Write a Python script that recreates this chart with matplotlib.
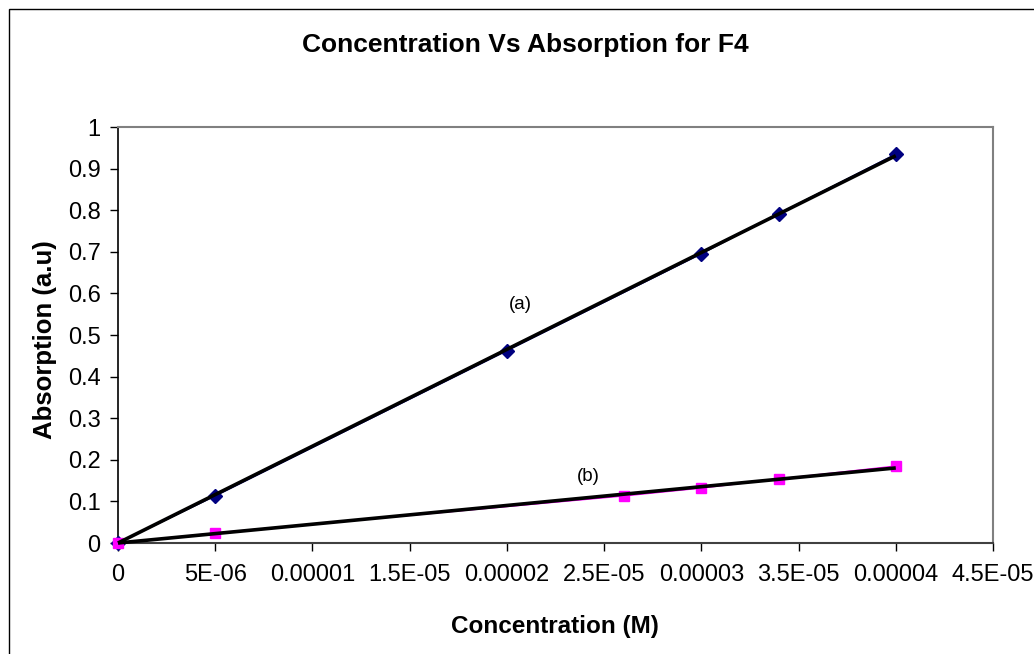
import numpy as np
import matplotlib
matplotlib.use("Agg")
import matplotlib.pyplot as plt
from matplotlib.patches import Rectangle

# Concentration (M) and absorption (a.u.) for the two F4 series
conc_a = [0.0, 5e-6, 2e-5, 3e-5, 3.4e-5, 4e-5]
abs_a = [0.0, 0.113, 0.462, 0.695, 0.792, 0.935]
conc_b = [0.0, 5e-6, 2.6e-5, 3e-5, 3.4e-5, 4e-5]
abs_b = [0.0, 0.024, 0.113, 0.132, 0.154, 0.185]

x_ticks = [0, 5e-6, 1e-5, 1.5e-5, 2e-5, 2.5e-5, 3e-5, 3.5e-5, 4e-5, 4.5e-5]
x_tick_labels = ["0", "5E-06", "0.00001", "1.5E-05", "0.00002", "2.5E-05",
                 "0.00003", "3.5E-05", "0.00004", "4.5E-05"]
y_ticks = [0, 0.1, 0.2, 0.3, 0.4, 0.5, 0.6, 0.7, 0.8, 0.9, 1.0]
y_tick_labels = ["0", "0.1", "0.2", "0.3", "0.4", "0.5", "0.6", "0.7", "0.8", "0.9", "1"]

plt.rcParams["font.family"] = ["Liberation Sans", "DejaVu Sans"]

W, H = 1034, 654
fig = plt.figure(figsize=(W / 100, H / 100), dpi=100)
fig.patch.set_facecolor("white")

# chart-area border
fig.patches.append(Rectangle((8.5 / W, -0.1), 1.2, 1.1 - 9.5 / H,
                             transform=fig.transFigure, fill=False,
                             edgecolor="black", linewidth=1.0))

ax = fig.add_axes([118 / W, 1 - 543 / H, (993 - 118) / W, (543 - 127) / H])


def fit_through_origin(x, y):
    x = np.asarray(x)
    y = np.asarray(y)
    return np.sum(x * y) / np.sum(x * x)


# data series
ax.plot(conc_a, abs_a, color="#000080", lw=1.0, marker="D", markersize=7,
        markerfacecolor="#000080", markeredgecolor="#000080", zorder=3, clip_on=False)
ax.plot(conc_b, abs_b, color="#FF00FF", lw=1.0, marker="s", markersize=7.5,
        markerfacecolor="#FF00FF", markeredgecolor="#FF00FF", zorder=3, clip_on=False)

# linear trendlines through the origin
for xs, ys in ((conc_a, abs_a), (conc_b, abs_b)):
    k = fit_through_origin(xs, ys)
    xe = np.array([0.0, max(xs)])
    ax.plot(xe, k * xe, color="black", lw=2.6, zorder=4, solid_capstyle="butt",
            clip_on=False)

ax.text(2.07e-5, 0.573, "(a)", fontsize=13.5, ha="center", va="center")
ax.text(2.42e-5, 0.159, "(b)", fontsize=13.5, ha="center", va="center")

ax.set_xlim(0, 4.5e-5)
ax.set_ylim(0, 1.0)
ax.set_xticks(x_ticks)
ax.set_xticklabels(x_tick_labels)
ax.set_yticks(y_ticks)
ax.set_yticklabels(y_tick_labels)
ax.tick_params(axis="both", direction="out", length=6, width=1, labelsize=17,
               colors="black")
ax.tick_params(axis="x", pad=9)
ax.tick_params(axis="y", pad=6.5)

ax.spines["top"].set_color("#808080")
ax.spines["right"].set_color("#808080")
ax.spines["top"].set_linewidth(1.5)
ax.spines["right"].set_linewidth(1.5)
ax.spines["left"].set_color("black")
ax.spines["bottom"].set_color("#404040")
ax.spines["left"].set_linewidth(1.2)
ax.spines["bottom"].set_linewidth(1.5)

fig.text(525 / W, 1 - 52 / H, "Concentration Vs Absorption for F4",
         fontsize=19, fontweight="bold", ha="center", va="baseline")
fig.text(555 / W, 1 - 633 / H, "Concentration (M)",
         fontsize=17.5, fontweight="bold", ha="center", va="baseline")
fig.text(45 / W, 1 - 340 / H, "Absorption (a.u)",
         fontsize=18.5, fontweight="bold", ha="center", va="center", rotation=90)

fig.savefig("out.png", dpi=100, facecolor="white")
